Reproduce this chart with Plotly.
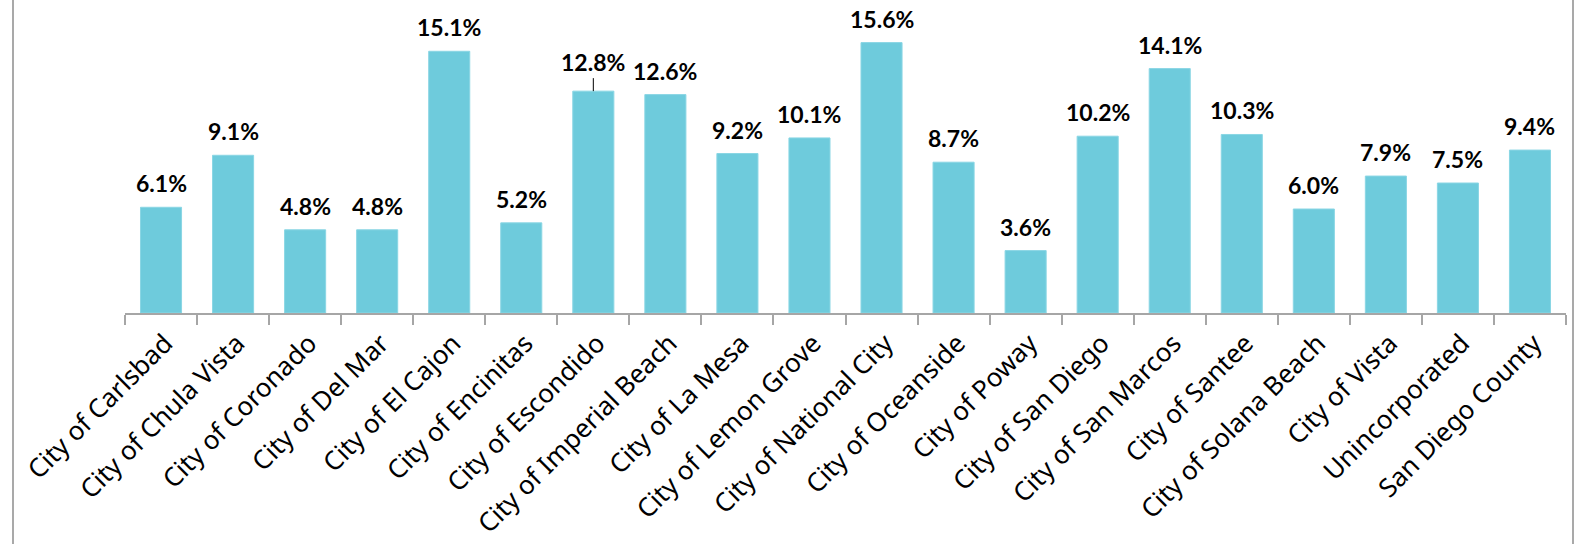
import plotly.graph_objects as go

categories = ["City of Carlsbad", "City of Chula Vista", "City of Coronado", "City of Del Mar",
              "City of El Cajon", "City of Encinitas", "City of Escondido", "City of Imperial Beach",
              "City of La Mesa", "City of Lemon Grove", "City of National City", "City of Oceanside",
              "City of Poway", "City of San Diego", "City of San Marcos", "City of Santee",
              "City of Solana Beach", "City of Vista", "Unincorporated", "San Diego County"]
values = [6.1, 9.1, 4.8, 4.8, 15.1, 5.2, 12.8, 12.6, 9.2, 10.1, 15.6, 8.7, 3.6, 10.2, 14.1, 10.3,
          6.0, 7.9, 7.5, 9.4]
labels = [f"{v:.1f}%" for v in values]
leader_index = 6  # label moved up with leader line

W, H = 1577, 544
ml, mr, mt, mb = 125, W - 1566, 1, H - 313

fig = go.Figure(go.Bar(
    x=categories, y=values,
    marker=dict(color="#6ECBDC", line=dict(color="#8AD6E4", width=1)),
    width=0.57,
    hoverinfo="skip",
))

lab_font = dict(family="Lato", size=23, color="#000000")
annotations = []
for i, (c, v, t) in enumerate(zip(categories, values, labels)):
    if i == leader_index:
        annotations.append(dict(x=c, y=v, text=f"<b>{t}</b>", showarrow=True, arrowhead=0,
                                arrowwidth=1, arrowcolor="#000000", ax=0, ay=-13,
                                yanchor="bottom", standoff=0, startstandoff=0,
                                font=lab_font))
    else:
        annotations.append(dict(x=c, y=v, text=f"<b>{t}</b>", showarrow=False,
                                yanchor="bottom", yshift=8, font=lab_font))

pw = W - ml - mr
ph = H - mt - mb
shapes = [
    dict(type="line", xref="paper", yref="paper", x0=(13 - ml) / pw, x1=(13 - ml) / pw,
         y0=-mb / ph - 0.1, y1=1 + mt / ph + 0.1, line=dict(color="#8C8C8C", width=1.5)),
    dict(type="line", xref="paper", yref="paper", x0=(1573 - ml) / pw, x1=(1573 - ml) / pw,
         y0=-mb / ph - 0.1, y1=1 + mt / ph + 0.1, line=dict(color="#8C8C8C", width=1.5)),
]

fig.update_layout(
    width=W, height=H,
    margin=dict(l=ml, r=mr, t=mt, b=mb, autoexpand=False),
    plot_bgcolor="white", paper_bgcolor="white",
    showlegend=False,
    annotations=annotations,
    shapes=shapes,
    xaxis=dict(
        tickangle=-45, tickfont=dict(family="Noto Sans", size=26, color="#000000"),
        ticklabelshift=4, ticklabelstandoff=3,
        showline=True, linecolor="#A6A6A6", linewidth=1.5,
        ticks="outside", tickson="boundaries", ticklen=10, tickcolor="#A6A6A6", tickwidth=1.5,
        showgrid=False, automargin=False,
    ),
    yaxis=dict(range=[0, 18], visible=False, showgrid=False, zeroline=False),
)

fig.write_html("out.html", config={"displayModeBar": False},
               post_script="document.body.style.margin='0';document.body.style.overflow='hidden';")
